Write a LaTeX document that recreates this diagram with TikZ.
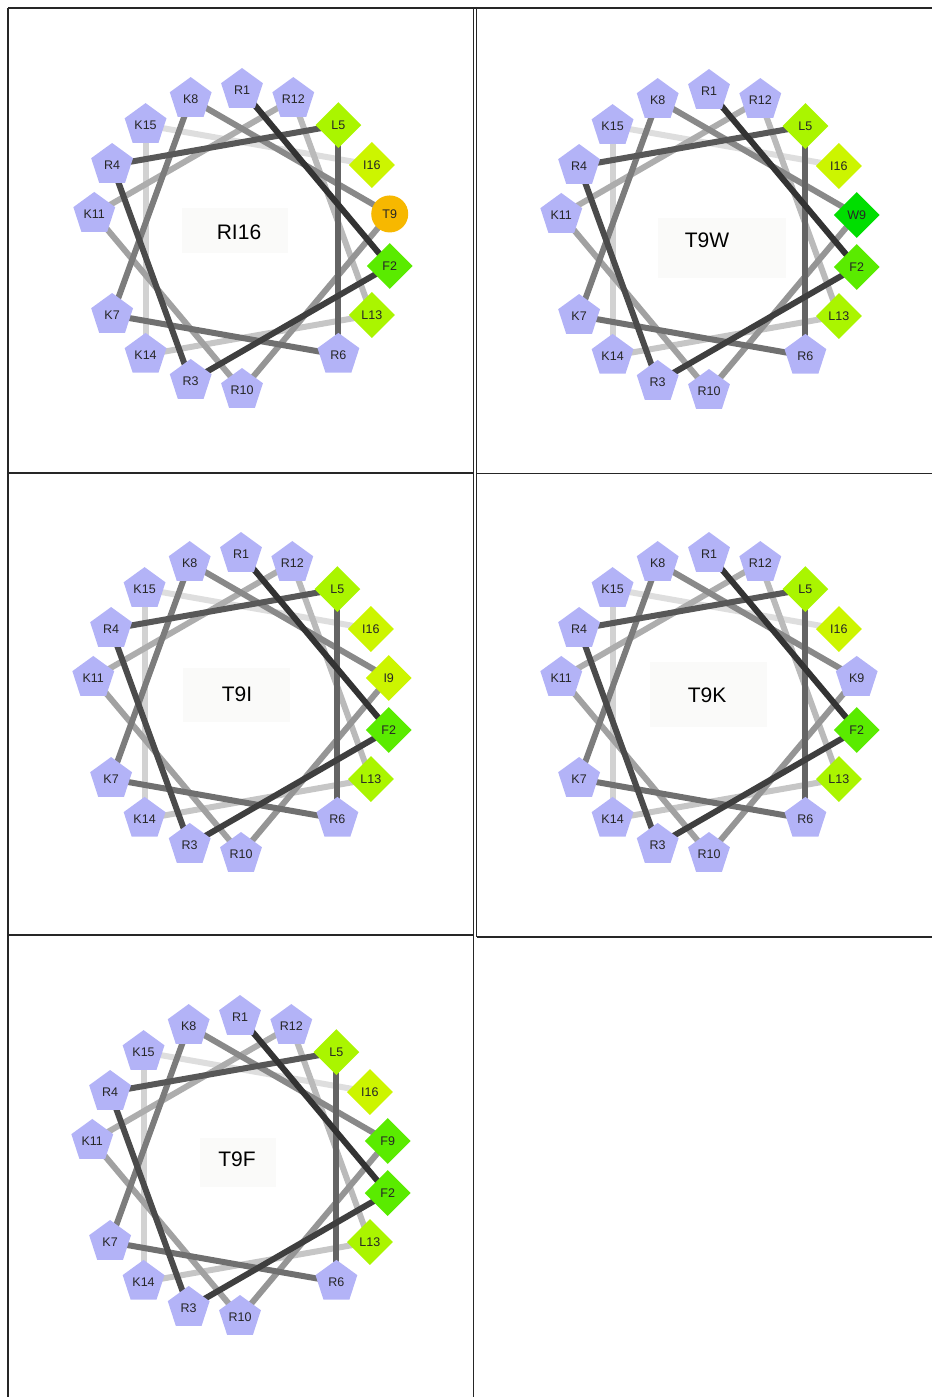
\documentclass[tikz,border=0pt]{standalone}
\usepackage{fontspec}
\setmainfont{Liberation Sans}
\usetikzlibrary{shapes.geometric}
\pgfdeclarelayer{bg}
\pgfsetlayers{bg,main}
\definecolor{posblue}{RGB}{179,179,247}
\definecolor{leu}{RGB}{170,245,0}
\definecolor{ile}{RGB}{204,245,0}
\definecolor{phe}{RGB}{90,235,0}
\definecolor{trp}{RGB}{0,222,0}
\definecolor{thr}{RGB}{247,184,0}
\definecolor{boxgray}{RGB}{250,250,249}
\tikzset{
  res/.style={inner sep=0pt, font=\fontsize{12.5}{12.5}\selectfont, text=black!85},
  rpos/.style={res, regular polygon, regular polygon sides=5, minimum size=44pt, fill=posblue},
  rleu/.style={res, diamond, aspect=1, minimum width=46pt, minimum height=46pt, fill=leu},
  rile/.style={res, diamond, aspect=1, minimum width=46pt, minimum height=46pt, fill=ile},
  rphe/.style={res, diamond, aspect=1, minimum width=46pt, minimum height=46pt, fill=phe},
  rtrp/.style={res, diamond, aspect=1, minimum width=46pt, minimum height=46pt, fill=trp},
  rthr/.style={res, circle, minimum size=37pt, fill=thr},
  helixedge/.style={line width=6pt, draw=black!#1},
  title/.style={font=\fontsize{21}{21}\selectfont, text=black, inner sep=0pt},
  lbox/.style={fill=boxgray, draw=none},
  cell/.style={line width=1.5pt, draw=black!85}
}
\newcommand\res[6]{%
  \pgfmathsetmacro\px{#5+150*cos(90-(#2-1)*100)}%
  \pgfmathsetmacro\py{#6-150*sin(90-(#2-1)*100)}%
  \node[#3] (#1#2) at (\px,\py) {#4};%
}
\newcommand\wheel[5]{%
  \res{#1}{1}{rpos}{R1}{#2}{#3}
  \res{#1}{2}{rphe}{F2}{#2}{#3}
  \res{#1}{3}{rpos}{R3}{#2}{#3}
  \res{#1}{4}{rpos}{R4}{#2}{#3}
  \res{#1}{5}{rleu}{L5}{#2}{#3}
  \res{#1}{6}{rpos}{R6}{#2}{#3}
  \res{#1}{7}{rpos}{K7}{#2}{#3}
  \res{#1}{8}{rpos}{K8}{#2}{#3}
  \res{#1}{9}{#4}{#5}{#2}{#3}
  \res{#1}{10}{rpos}{R10}{#2}{#3}
  \res{#1}{11}{rpos}{K11}{#2}{#3}
  \res{#1}{12}{rpos}{R12}{#2}{#3}
  \res{#1}{13}{rleu}{L13}{#2}{#3}
  \res{#1}{14}{rpos}{K14}{#2}{#3}
  \res{#1}{15}{rpos}{K15}{#2}{#3}
  \res{#1}{16}{rile}{I16}{#2}{#3}
  \begin{pgfonlayer}{bg}
  \foreach \i in {15,14,...,1}{%
    \pgfmathtruncatemacro\j{\i+1}%
    \pgfmathsetmacro\k{80-(\i-1)*4.8}%
    \draw[helixedge=\k] (#1\i.center) -- (#1\j.center);
  }
  \end{pgfonlayer}
}
\begin{document}
\begin{tikzpicture}[x=1pt,y=-1pt]
\useasboundingbox (0,0) rectangle (932,1397);
% cell borders
\draw[cell] (8,8) -- (932,8);
\draw[cell] (8,8) -- (8,1397);
\draw[cell] (473.5,8) -- (473.5,1397);
\draw[cell] (476.5,8) -- (476.5,937);
\draw[cell] (8,473) -- (473.5,473);
\draw[cell] (476.5,473.7) -- (932,473.7);
\draw[cell] (8,935) -- (473.5,935);
\draw[cell] (476.5,937) -- (932,937);
% label boxes
\begin{pgfonlayer}{bg}
\fill[lbox] (182,208) rectangle (288,253);
\fill[lbox] (658,218) rectangle (786,278);
\fill[lbox] (183,668) rectangle (290,722);
\fill[lbox] (650,662) rectangle (767,727);
\fill[lbox] (200,1138) rectangle (276,1187);
\end{pgfonlayer}
% wheels
\wheel{A}{242}{240}{rthr}{T9}
\wheel{B}{709}{241}{rtrp}{W9}
\wheel{C}{241}{704}{rile}{I9}
\wheel{D}{709}{704}{rpos}{K9}
\wheel{E}{240}{1167}{rphe}{F9}
% titles
\node[title] (tA) at (239,232) {RI16};
\node[title] (tB) at (707,240) {T9W};
\node[title] (tC) at (237,694) {T9I};
\node[title] (tD) at (707,695) {T9K};
\node[title] (tE) at (237,1159) {T9F};
\end{tikzpicture}
\end{document}
